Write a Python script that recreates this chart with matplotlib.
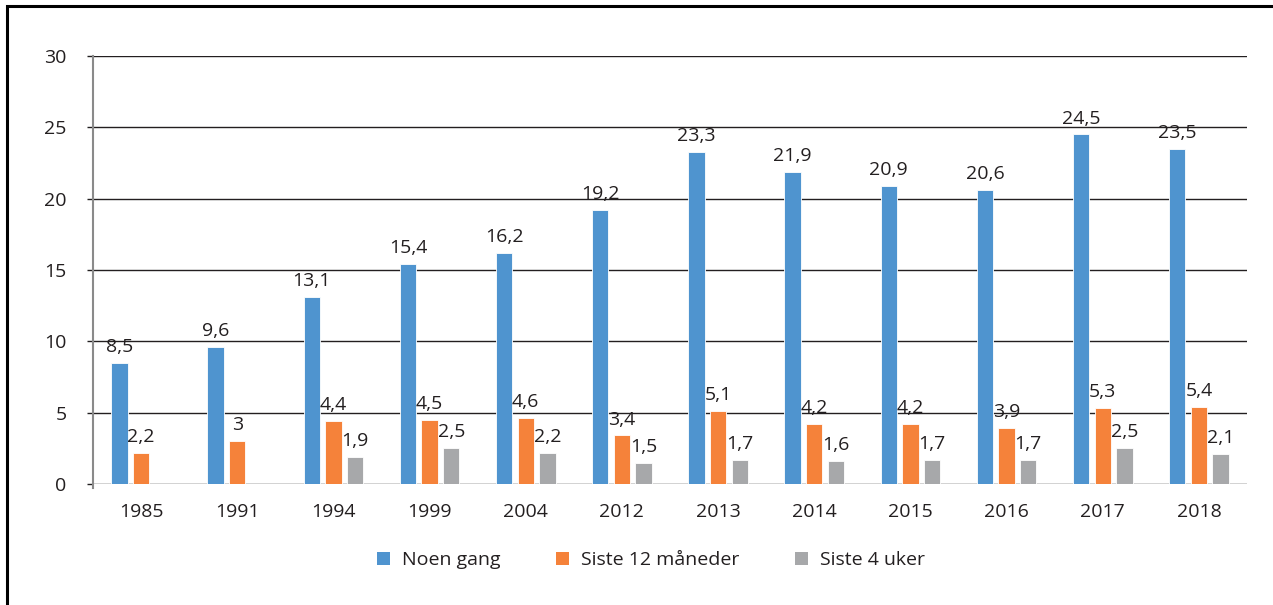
import matplotlib
matplotlib.use("Agg")
import matplotlib.pyplot as plt
import numpy as np
from matplotlib.patches import Rectangle, Patch

years = ["1985", "1991", "1994", "1999", "2004", "2012", "2013", "2014", "2015", "2016", "2017", "2018"]
noen_gang = [8.5, 9.6, 13.1, 15.4, 16.2, 19.2, 23.3, 21.9, 20.9, 20.6, 24.5, 23.5]
siste_12 = [2.2, 3, 4.4, 4.5, 4.6, 3.4, 5.1, 4.2, 4.2, 3.9, 5.3, 5.4]
siste_4 = [None, None, 1.9, 2.5, 2.2, 1.5, 1.7, 1.6, 1.7, 1.7, 2.5, 2.1]
series_names = ["Noen gang", "Siste 12 måneder", "Siste 4 uker"]
colors = ["#4F94CF", "#F5823A", "#A7A8AA"]

plt.rcParams['font.family'] = ['Open Sans', 'DejaVu Sans']

W, H = 1273, 605
fig = plt.figure(figsize=(W / 100, H / 100), dpi=100)
ax = fig.add_axes([93 / W, 1 - 484 / H, (1247 - 93) / W, (484 - 56) / H])

x = np.arange(len(years))
offs = [-0.225, 0.0, 0.225]
width = 0.17
fs = 14

for k, (vals, col) in enumerate(zip([noen_gang, siste_12, siste_4], colors)):
    xs = [xi + offs[k] for xi, v in zip(x, vals) if v is not None]
    vs = [v for v in vals if v is not None]
    ax.bar(xs, vs, width=width, color=col, edgecolor="white", linewidth=0.6, zorder=3)
    for xi, v in zip(xs, vs):
        lab = f"{v:g}".replace(".", ",")
        ax.annotate(lab, (xi, v), xytext=(0, 5), textcoords="offset points",
                    ha="center", va="bottom", fontsize=fs, color="#231F20", zorder=4)

ax.set_xlim(-0.5, len(years) - 0.5)
ax.set_ylim(0, 30)
ax.set_yticks(range(0, 31, 5))
ax.set_xticks(x)
ax.set_xticklabels(years)
ax.yaxis.grid(True, color="#231F20", linewidth=1.0, zorder=0)
ax.set_axisbelow(True)
for s in ["top", "right", "bottom"]:
    ax.spines[s].set_visible(False)
ax.spines["left"].set_color("#8A8A8A")
ax.spines["left"].set_linewidth(1.5)
ax.spines["left"].set_bounds(-0.3, 30)
ax.tick_params(axis="y", length=4, width=1.0, color="#231F20", pad=15, labelsize=fs, labelcolor="#231F20")
ax.tick_params(axis="x", length=0, pad=14, labelsize=fs, labelcolor="#231F20")

handles = [Patch(facecolor=c, edgecolor="none") for c in colors]
fig.legend(handles, series_names, loc="center", bbox_to_anchor=(651 / W, 1 - 560 / H),
           ncol=3, frameon=False, fontsize=fs, handlelength=0.65, handleheight=0.65,
           handletextpad=0.6, columnspacing=2.9, labelcolor="#231F20")

fig.patches.append(Rectangle((7 / W, -0.1), 1.2, (1 - 6 / H) + 0.1, transform=fig.transFigure,
                             fill=False, edgecolor="black", linewidth=2.2, zorder=10))

fig.savefig("out.png", dpi=100)
